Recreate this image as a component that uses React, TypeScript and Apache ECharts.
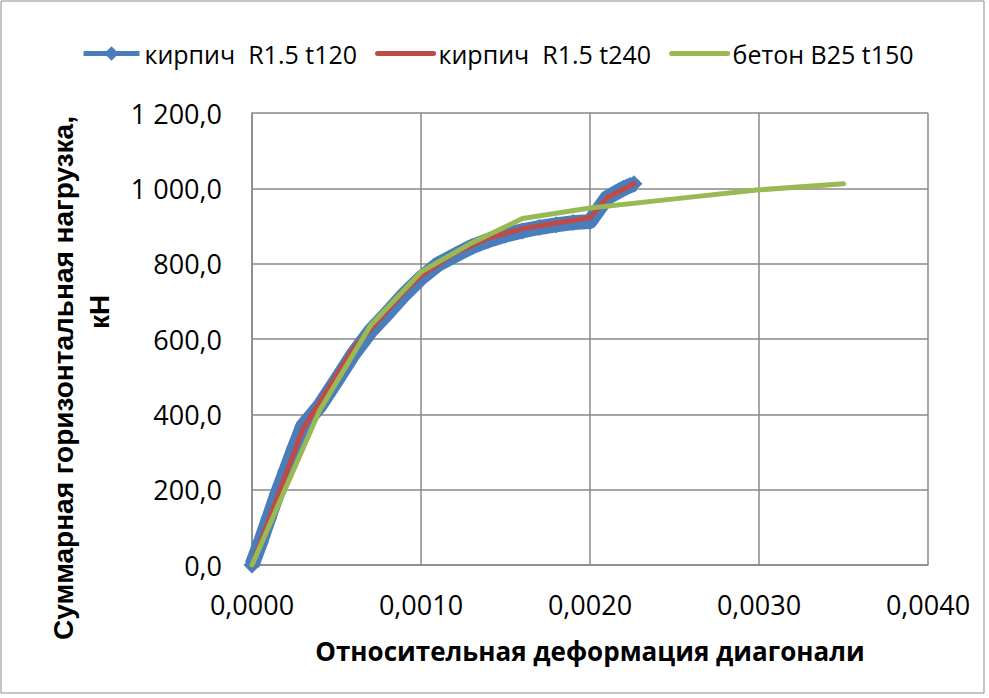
import React, { useEffect, useRef } from "react";
import * as echarts from "echarts";

const seriesNames = ["кирпич  R1.5 t120", "кирпич  R1.5 t240", "бетон B25 t150"];

const brick120X = [0, 0.00005, 0.0001, 0.00015, 0.0002, 0.00025, 0.0003, 0.00035, 0.0004, 0.0005, 0.0006, 0.0007, 0.0008, 0.0009, 0.001, 0.0011, 0.0012, 0.0013, 0.0014, 0.0015, 0.0016, 0.0017, 0.0018, 0.0019, 0.002, 0.0021, 0.0022, 0.00226];
const brick120Y = [0, 60, 125, 190, 250, 310, 368, 395, 422, 490, 560, 620, 668, 718, 762, 798, 822, 845, 862, 876, 887, 896, 903, 909, 912, 975, 1000, 1012];

const brick240X = [0, 0.0003, 0.0006, 0.0009, 0.001, 0.0012, 0.0014, 0.0016, 0.0018, 0.002, 0.0021, 0.00226];
const brick240Y = [0, 360, 575, 725, 768, 828, 868, 893, 908, 922, 975, 1012];

const concreteX = [0, 0.0004, 0.0007, 0.001, 0.0013, 0.0016, 0.002, 0.0025, 0.003, 0.0035];
const concreteY = [0, 410, 635, 778, 855, 920, 948, 972, 996, 1012];

const xAxisTitle = "Относительная деформация диагонали";
const yAxisTitleLines = ["Суммарная горизонтальная нагрузка,", "кН"];

const colors = ["#4a7ebb", "#be4b48", "#98b954"];

const zip = (xs: number[], ys: number[]) => xs.map((x, i) => [x, ys[i]]);

const fmtY = (v: number) => {
  const s = v.toFixed(1).replace(".", ",");
  const [int, dec] = s.split(",");
  return int.replace(/\B(?=(\d{3})+(?!\d))/g, " ") + "," + dec;
};
const fmtX = (v: number) => v.toFixed(4).replace(".", ",");

export default function App() {
  const ref = useRef<HTMLDivElement>(null);
  useEffect(() => {
    if (!ref.current) return;
    const chart = echarts.init(ref.current, undefined, { renderer: "svg" });
    const tickFont = { fontFamily: "Open Sans", fontSize: 27, color: "#000" };
    const yTitleStyle = {
      fontFamily: "Liberation Sans",
      fontWeight: "bold",
      fontSize: 28,
      fill: "#000",
      textAlign: "center",
      textVerticalAlign: "middle",
    };
    chart.setOption({
      animation: false,
      backgroundColor: "#fff",
      graphic: [
        {
          type: "rect",
          shape: { x: 1, y: 1, width: 983, height: 692 },
          style: { fill: "none", stroke: "#8c8c8c", lineWidth: 1 },
        },
        {
          type: "text",
          x: 63,
          y: 378,
          rotation: Math.PI / 2,
          style: { ...yTitleStyle, text: yAxisTitleLines[0] },
        },
        {
          type: "text",
          x: 99,
          y: 312,
          rotation: Math.PI / 2,
          style: { ...yTitleStyle, text: yAxisTitleLines[1] },
        },
      ],
      legend: {
        top: 36,
        left: 76,
        itemWidth: 56,
        itemHeight: 18,
        itemGap: 18,
        textStyle: { fontFamily: "Open Sans", fontSize: 25, color: "#000" },
        data: [
          { name: seriesNames[0], lineStyle: { width: 5 } },
          { name: seriesNames[1], itemStyle: { opacity: 0 }, lineStyle: { width: 5 } },
          { name: seriesNames[2], itemStyle: { opacity: 0 }, lineStyle: { width: 5 } },
        ],
      },
      grid: { left: 252, right: 61, top: 113, bottom: 133, containLabel: false },
      xAxis: {
        type: "value",
        min: 0,
        max: 0.004,
        interval: 0.001,
        name: xAxisTitle,
        nameLocation: "middle",
        nameGap: 73,
        nameTextStyle: { fontFamily: "Open Sans", fontWeight: "bold", fontSize: 26, color: "#000" },
        axisLine: { show: true, lineStyle: { color: "#898989", width: 1.5 } },
        axisTick: { show: false },
        axisLabel: { ...tickFont, margin: 26, formatter: fmtX },
        splitLine: { show: true, lineStyle: { color: "#898989", width: 1.5 } },
      },
      yAxis: {
        type: "value",
        min: 0,
        max: 1200,
        interval: 200,
        axisLine: { show: true, lineStyle: { color: "#898989", width: 1.5 } },
        axisTick: { show: false },
        axisLabel: { ...tickFont, margin: 30, formatter: fmtY },
        splitLine: { show: true, lineStyle: { color: "#898989", width: 1.5 } },
      },
      series: [
        {
          name: seriesNames[0],
          type: "line",
          data: zip(brick120X, brick120Y),
          color: colors[0],
          symbol: "diamond",
          symbolSize: 17,
          showSymbol: true,
          lineStyle: { width: 15, color: colors[0], join: "round" },
          itemStyle: { color: colors[0] },
          z: 1,
        },
        {
          name: seriesNames[1],
          type: "line",
          data: zip(brick240X, brick240Y),
          color: colors[1],
          showSymbol: false,
          symbol: "none",
          lineStyle: { width: 5, color: colors[1], cap: "round", join: "round" },
          z: 2,
        },
        {
          name: seriesNames[2],
          type: "line",
          data: zip(concreteX, concreteY),
          color: colors[2],
          showSymbol: false,
          symbol: "none",
          lineStyle: { width: 5, color: colors[2], cap: "round", join: "round" },
          z: 3,
        },
      ],
    });
    return () => chart.dispose();
  }, []);
  return (
    <div
      ref={ref}
      style={{ position: "fixed", left: 0, top: 0, width: 989, height: 698 }}
    />
  );
}
